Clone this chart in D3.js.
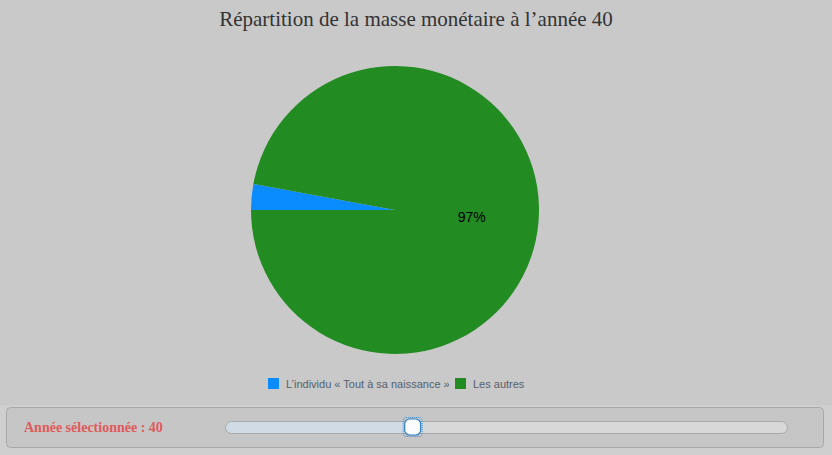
<!DOCTYPE html>
<html><head><meta charset="utf-8">
<script src="https://cdn.jsdelivr.net/npm/d3@7"></script>
<style>
html,body{margin:0;padding:0;background:#cfcfcf;}
svg{display:block;}
</style></head>
<body>
<svg id="c" width="832" height="455"></svg>
<script>
const categories = ["L\u2019individu \u00ab Tout \u00e0 sa naissance \u00bb", "Les autres"];
const shares = [2.9, 97.1];
const colors = ["#0a8cff", "#228b22"];
const selectedYear = 40;
const yearRange = [0, 120];
const title = "Répartition de la masse monétaire à l\u2019année " + selectedYear;

const svg = d3.select("#c");
svg.append("rect").attr("width",832).attr("height",405).attr("fill","#c9c9c9");

svg.append("text").attr("x",416).attr("y",26).attr("text-anchor","middle")
  .attr("font-family","Liberation Serif, serif").attr("font-size",21).attr("fill","#333")
  .text(title);

const cx=395, cy=210, r=144;
const pie = d3.pie().sort(null).startAngle(-Math.PI/2).endAngle(3*Math.PI/2);
const arcs = pie(shares);
const arc = d3.arc().innerRadius(0).outerRadius(r);
const g = svg.append("g").attr("transform",`translate(${cx},${cy})`);
g.selectAll("path").data(arcs).enter().append("path")
  .attr("d",arc).attr("fill",(d,i)=>colors[i]).attr("stroke","none");
const labelArc = d3.arc().innerRadius(r*0.535).outerRadius(r*0.535);
g.selectAll("text.lbl").data(arcs.filter(d=>d.data>5)).enter().append("text")
  .attr("class","lbl")
  .attr("transform",d=>{const c=labelArc.centroid(d);return `translate(${c[0]},${c[1]})`;})
  .attr("text-anchor","middle").attr("dy","0.35em")
  .attr("font-family","Liberation Sans, Arial, sans-serif").attr("font-size",14).attr("fill","#000")
  .text(d=>Math.round(d.data)+"%");

// legend
const lg = svg.append("g").attr("font-family","Liberation Sans, Arial, sans-serif").attr("font-size",11);
const legX=[268,455];
categories.forEach((c,i)=>{
  lg.append("rect").attr("x",legX[i]).attr("y",378).attr("width",11).attr("height",11).attr("fill",colors[i]);
  lg.append("text").attr("x",legX[i]+18).attr("y",387.5).attr("fill","#55606d").text(c);
});

// slider panel
svg.append("rect").attr("x",6.5).attr("y",407.5).attr("width",817).attr("height",40).attr("rx",4)
  .attr("fill","#c6c6c6").attr("stroke","#a8a8a8");
svg.append("text").attr("x",24).attr("y",432).attr("font-family","Liberation Serif, serif")
  .attr("font-weight","bold").attr("font-size",14).attr("fill","#e05a5a")
  .text("Année sélectionnée : " + selectedYear);
const sx = d3.scaleLinear().domain(yearRange).range([225,788]);
const hx = sx(selectedYear);
const defs = svg.append("defs");
defs.append("clipPath").attr("id","trk").append("rect")
  .attr("x",225.5).attr("y",421.5).attr("width",562).attr("height",12).attr("rx",6);
svg.append("rect").attr("x",225.5).attr("y",421.5).attr("width",562).attr("height",12).attr("rx",6)
  .attr("fill","#d8d8d8");
svg.append("rect").attr("clip-path","url(#trk)").attr("x",225).attr("y",421).attr("width",hx-225).attr("height",13)
  .attr("fill","#d0dbe5");
svg.append("rect").attr("x",225.5).attr("y",421.5).attr("width",562).attr("height",12).attr("rx",6)
  .attr("fill","none").attr("stroke","#a9a9a9");
svg.append("rect").attr("x",hx-9.5).attr("y",417.5).attr("width",19).attr("height",19).attr("rx",3)
  .attr("fill","none").attr("stroke","#3a8ad0").attr("stroke-dasharray","1,1");
svg.append("rect").attr("x",hx-8).attr("y",419).attr("width",16).attr("height",16).attr("rx",5)
  .attr("fill","#fafcfe").attr("stroke","#2a7dc5").attr("stroke-width",1.2);
</script>
</body></html>
